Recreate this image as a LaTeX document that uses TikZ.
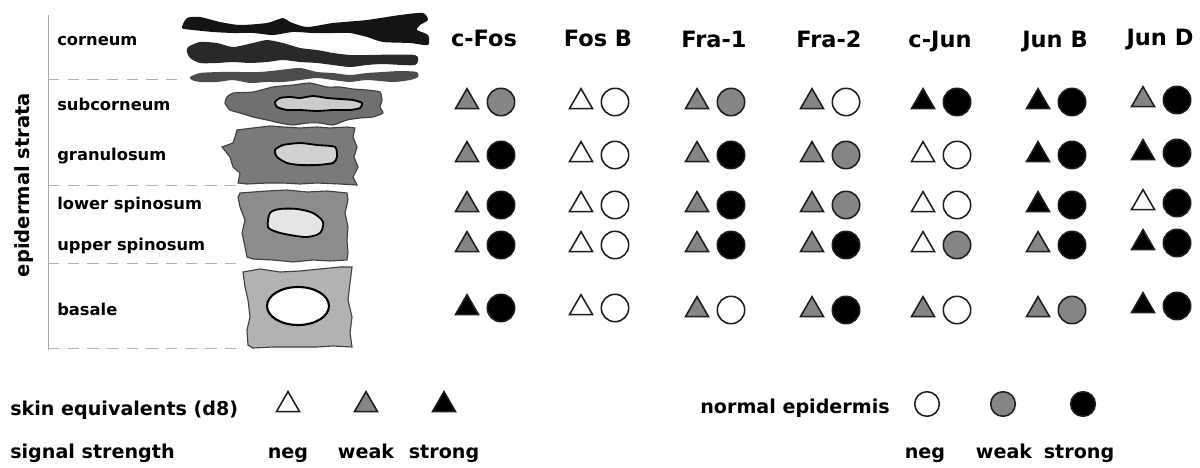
\documentclass[tikz,border=0pt]{standalone}
\usepackage{fontspec}
\setmainfont{DejaVu Sans}
\usetikzlibrary{shapes.geometric}

\definecolor{wk}{HTML}{858585}
\definecolor{rim}{HTML}{1E1E1E}

\begin{document}
\begin{tikzpicture}[x=0.025cm, y=-0.025cm,
  tri/.style={regular polygon, regular polygon sides=3, draw=rim, line width=1.1pt, inner sep=0pt, minimum size=19pt},
  spot/.style={circle, draw=rim, line width=1.1pt, inner sep=0pt, minimum size=19.5pt},
  negfill/.style={fill=white},
  weakfill/.style={fill=wk},
  strongfill/.style={fill=black},
  lab/.style={inner sep=0pt, anchor=base west, font=\bfseries\fontsize{11.6}{13}\selectfont},
  head/.style={inner sep=0pt, anchor=base, font=\bfseries\fontsize{16}{18}\selectfont},
  leg/.style={inner sep=0pt, anchor=base, font=\bfseries\fontsize{13.6}{16}\selectfont}]
  \useasboundingbox (0,0) rectangle (1200,467);

  % strata axis
  \draw [gray!70, line width=0.7pt] (48,15) -- (48,350);
  \draw [gray!60, dashed, dash pattern=on 8pt off 6pt, line width=0.7pt] (48,79) -- (185,79);
  \draw [gray!60, dashed, dash pattern=on 8pt off 6pt, line width=0.7pt] (48,185) -- (240,185);
  \draw [gray!60, dashed, dash pattern=on 8pt off 6pt, line width=0.7pt] (48,263) -- (240,263);
  \draw [gray!60, dashed, dash pattern=on 8pt off 6pt, line width=0.7pt] (48,348) -- (240,348);
  \node [rotate=90, inner sep=0pt, font=\bfseries\fontsize{13.9}{16}\selectfont] (strata) at (24,185) {epidermal strata};

  \node [lab] (corneum) at (57,45) {corneum};
  \node [lab] (subcorneum) at (57,110) {subcorneum};
  \node [lab] (granulosum) at (57,160) {granulosum};
  \node [lab] (lowspin) at (57,209) {lower spinosum};
  \node [lab] (upspin) at (57,250) {upper spinosum};
  \node [lab] (basale) at (57,315) {basale};

  % corneum flakes
  \fill [black!92] plot [smooth cycle, tension=0.4] coordinates {(182,28) (187,18) (200,17) (220,22) (240,25) (267,23) (283,18) (290,22) (307,27) (333,23) (367,20) (400,15) (423,13) (428,20) (420,25) (417,30) (428,35) (428,45) (410,43) (383,42) (367,37) (350,33) (333,33) (313,33) (293,32) (273,35) (253,33) (233,33) (213,32) (193,30)};
  \fill [black!84] plot [smooth cycle, tension=0.4] coordinates {(187,52) (188,47) (200,42) (217,43) (233,47) (253,43) (267,40) (283,43) (300,48) (317,50) (333,53) (350,55) (367,55) (415,55) (415,65) (383,64) (367,65) (350,67) (333,65) (317,63) (300,62) (283,60) (267,62) (250,63) (233,62) (217,63) (200,63) (190,58)};
  \fill [black!70] plot [smooth cycle, tension=0.4] coordinates {(190,77) (200,73) (220,72) (240,72) (260,72) (280,70) (300,68) (317,72) (333,73) (350,75) (367,73) (383,72) (400,71) (417,72) (418,77) (410,80) (393,82) (367,80) (350,82) (333,80) (317,78) (300,80) (283,82) (267,82) (250,83) (233,80) (217,82) (200,82) (192,80)};

  % subcorneum cell
  \filldraw [fill=black!56, draw=black!75, line width=0.8pt] plot [smooth cycle, tension=0.3] coordinates {(227,97) (233,93) (253,92) (273,87) (293,85) (310,83) (327,87) (340,87) (353,89) (367,90) (380,92) (382,100) (380,107) (383,113) (373,117) (360,118) (347,120) (333,125) (320,123) (307,123) (293,125) (280,123) (267,120) (253,117) (240,113) (230,110) (225,103)};
  \filldraw [fill=black!20, draw=black, line width=1.3pt] plot [smooth cycle, tension=0.4] coordinates {(275,102) (280,98) (290,97) (300,98) (313,96) (327,98) (340,99) (353,100) (362,103) (360,108) (350,110) (333,110) (317,111) (300,110) (287,110) (277,107)};

  % granulosum cell
  \filldraw [fill=black!52, draw=black!75, line width=0.8pt] (237,130) -- (253,128) -- (270,126) -- (283,127) -- (300,128) -- (317,127) -- (330,128) -- (347,127) -- (355,128) -- (353,137) -- (357,147) -- (354,157) -- (358,167) -- (353,177) -- (357,185) -- (340,184) -- (317,183) -- (300,184) -- (283,183) -- (267,183) -- (247,184) -- (238,183) -- (240,173) -- (233,167) -- (230,157) -- (222,147) -- (233,143) -- (235,137) -- cycle;
  \filldraw [fill=black!18, draw=black, line width=1.3pt] plot [smooth cycle, tension=0.4] coordinates {(275,150) (283,145) (300,143) (317,145) (335,147) (337,157) (333,163) (317,165) (300,165) (287,163) (277,157)};

  % spinosum cell
  \filldraw [fill=black!45, draw=black!75, line width=0.8pt] (240,193) -- (253,192) -- (267,191) -- (287,190) -- (307,192) -- (327,191) -- (347,193) -- (348,200) -- (345,213) -- (348,227) -- (347,240) -- (348,253) -- (347,260) -- (330,261) -- (313,260) -- (293,262) -- (273,260) -- (253,259) -- (247,257) -- (245,247) -- (242,233) -- (245,220) -- (240,207) -- (238,197) -- cycle;
  \filldraw [fill=black!10, draw=black, line width=1.3pt] plot [smooth cycle, tension=0.5] coordinates {(270,213) (280,209) (297,209) (313,213) (323,222) (320,233) (307,237) (290,235) (277,232) (268,227)};

  % basale cell
  \filldraw [fill=black!30, draw=black!75, line width=0.8pt] (243,272) -- (260,269) -- (280,272) -- (300,271) -- (320,269) -- (340,267) -- (352,267) -- (350,283) -- (348,300) -- (352,317) -- (350,333) -- (352,347) -- (333,346) -- (317,347) -- (293,347) -- (273,347) -- (253,348) -- (248,345) -- (247,330) -- (250,317) -- (248,300) -- (245,287) -- cycle;
  \filldraw [fill=white, draw=black, line width=1.5pt] (298,306) ellipse (31 and 19);

  % headers
  \node [head] (cfos) at (484,46) {c-Fos};
  \node [head] (fosb) at (598,46) {Fos B};
  \node [head] (fra1) at (714,47) {Fra-1};
  \node [head] (fra2) at (829,47) {Fra-2};
  \node [head] (cjun) at (940,47) {c-Jun};
  \node [head] (junb) at (1055,47) {Jun B};
  \node [head] (jund) at (1160,45) {Jun D};

  % c-Fos
  \node [tri, weakfill] (t11) at (467,102) {};
  \node [spot, weakfill] (c11) at (501,102) {};
  \node [tri, weakfill] (t12) at (467,155) {};
  \node [spot, strongfill] (c12) at (501,155) {};
  \node [tri, weakfill] (t13) at (467,205) {};
  \node [spot, strongfill] (c13) at (501,205) {};
  \node [tri, weakfill] (t14) at (467,245) {};
  \node [spot, strongfill] (c14) at (501,245) {};
  \node [tri, strongfill] (t15) at (467,308) {};
  \node [spot, strongfill] (c15) at (501,308) {};
  % Fos B
  \node [tri, negfill] (t21) at (581,102) {};
  \node [spot, negfill] (c21) at (615,102) {};
  \node [tri, negfill] (t22) at (581,155) {};
  \node [spot, negfill] (c22) at (615,155) {};
  \node [tri, negfill] (t23) at (581,205) {};
  \node [spot, negfill] (c23) at (615,205) {};
  \node [tri, negfill] (t24) at (581,245) {};
  \node [spot, negfill] (c24) at (615,245) {};
  \node [tri, negfill] (t25) at (581,308) {};
  \node [spot, negfill] (c25) at (615,308) {};
  % Fra-1
  \node [tri, weakfill] (t31) at (697,102) {};
  \node [spot, weakfill] (c31) at (731,102) {};
  \node [tri, weakfill] (t32) at (697,155) {};
  \node [spot, strongfill] (c32) at (731,155) {};
  \node [tri, weakfill] (t33) at (697,205) {};
  \node [spot, strongfill] (c33) at (731,205) {};
  \node [tri, weakfill] (t34) at (697,245) {};
  \node [spot, strongfill] (c34) at (731,245) {};
  \node [tri, weakfill] (t35) at (697,310) {};
  \node [spot, negfill] (c35) at (731,310) {};
  % Fra-2
  \node [tri, weakfill] (t41) at (812,102) {};
  \node [spot, negfill] (c41) at (846,102) {};
  \node [tri, weakfill] (t42) at (812,155) {};
  \node [spot, weakfill] (c42) at (846,155) {};
  \node [tri, weakfill] (t43) at (812,205) {};
  \node [spot, weakfill] (c43) at (846,205) {};
  \node [tri, weakfill] (t44) at (812,245) {};
  \node [spot, strongfill] (c44) at (846,245) {};
  \node [tri, weakfill] (t45) at (812,310) {};
  \node [spot, strongfill] (c45) at (846,310) {};
  % c-Jun
  \node [tri, strongfill] (t51) at (923,102) {};
  \node [spot, strongfill] (c51) at (957,102) {};
  \node [tri, negfill] (t52) at (923,155) {};
  \node [spot, negfill] (c52) at (957,155) {};
  \node [tri, negfill] (t53) at (923,205) {};
  \node [spot, negfill] (c53) at (957,205) {};
  \node [tri, negfill] (t54) at (923,245) {};
  \node [spot, weakfill] (c54) at (957,245) {};
  \node [tri, weakfill] (t55) at (923,310) {};
  \node [spot, negfill] (c55) at (957,310) {};
  % Jun B
  \node [tri, strongfill] (t61) at (1038,102) {};
  \node [spot, strongfill] (c61) at (1072,102) {};
  \node [tri, strongfill] (t62) at (1038,155) {};
  \node [spot, strongfill] (c62) at (1072,155) {};
  \node [tri, strongfill] (t63) at (1038,205) {};
  \node [spot, strongfill] (c63) at (1072,205) {};
  \node [tri, weakfill] (t64) at (1038,245) {};
  \node [spot, strongfill] (c64) at (1072,245) {};
  \node [tri, weakfill] (t65) at (1038,310) {};
  \node [spot, weakfill] (c65) at (1072,310) {};
  % Jun D
  \node [tri, weakfill] (t71) at (1143,100) {};
  \node [spot, strongfill] (c71) at (1177,100) {};
  \node [tri, strongfill] (t72) at (1143,153) {};
  \node [spot, strongfill] (c72) at (1177,153) {};
  \node [tri, negfill] (t73) at (1143,203) {};
  \node [spot, strongfill] (c73) at (1177,203) {};
  \node [tri, strongfill] (t74) at (1143,243) {};
  \node [spot, strongfill] (c74) at (1177,243) {};
  \node [tri, strongfill] (t75) at (1143,306) {};
  \node [spot, strongfill] (c75) at (1177,306) {};

  % key
  \node [leg, anchor=base west] (skin) at (10,415) {skin equivalents (d8)};
  \node [tri, negfill] (kt1) at (288,405) {};
  \node [tri, weakfill] (kt2) at (366,405) {};
  \node [tri, strongfill] (kt3) at (444,405) {};
  \node [leg, anchor=base west] (signal) at (10,458) {signal strength};
  \node [leg] (tneg) at (288,458) {neg};
  \node [leg] (tweak) at (366,458) {weak};
  \node [leg] (tstrong) at (444,458) {strong};

  \node [leg, anchor=base east] (normal) at (890,413) {normal epidermis};
  \node [spot, negfill, minimum size=17.5pt] (kc1) at (927,404) {};
  \node [spot, weakfill, minimum size=17.5pt] (kc2) at (1003,404) {};
  \node [spot, strongfill, minimum size=17.5pt] (kc3) at (1083,404) {};
  \node [leg] (cneg) at (925,458) {neg};
  \node [leg] (cweak) at (1004,458) {weak};
  \node [leg] (cstrong) at (1079,458) {strong};
\end{tikzpicture}
\end{document}
